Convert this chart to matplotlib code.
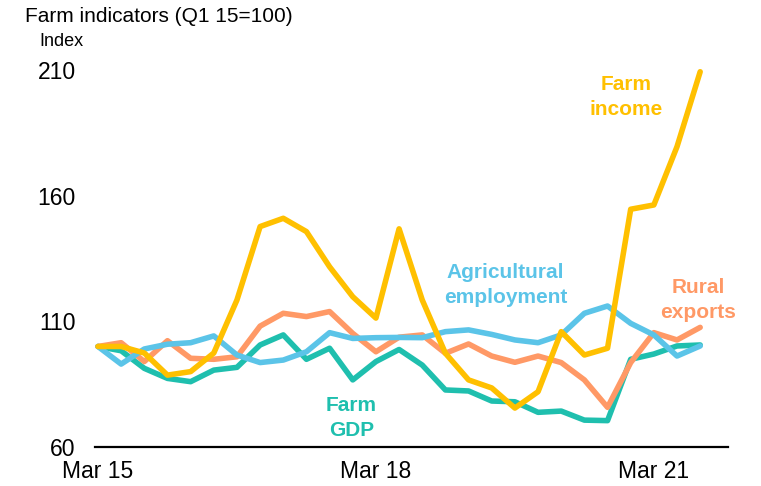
import matplotlib
matplotlib.use("Agg")
import matplotlib.pyplot as plt

plt.rcParams['font.family'] = ['Liberation Sans', 'DejaVu Sans']

quarters = list(range(27))
tick_positions = [0, 12, 24]
tick_labels = ["Mar 15", "Mar 18", "Mar 21"]
y_ticks = [60, 110, 160, 210]

farm_income = [100, 100, 97.4, 88.6, 90, 97.4, 118.5, 147.7, 151, 145.7, 131.7, 119.8,
               111.3, 146.8, 118.5, 97.3, 86.7, 83.5, 75.5, 82, 105.9, 96.6, 99.3,
               154.6, 156.3, 179.5, 209.3]
rural_exports = [100, 101.5, 94, 102.3, 95.3, 94.9, 95.9, 108.1, 113.2, 111.9, 113.9, 105.2,
                 97.9, 103.7, 104.6, 97.3, 101, 96.2, 93.7, 96.2, 93.6, 86.7, 75.8,
                 93.6, 105.5, 102.6, 107.6]
farm_gdp = [100, 98.3, 91.3, 87.3, 86, 90.6, 91.7, 100.6, 104.6, 94.9, 99.3, 86.7,
            94, 98.8, 92.6, 82.7, 82.3, 78.3, 78, 73.8, 74.3, 70.7, 70.5,
            94.9, 97, 100.2, 100.6]
agri_employment = [100, 93, 99, 100.9, 101.5, 104.2, 96.6, 93.6, 94.6, 97.9, 105.5, 103.2,
                   103.5, 103.6, 103.5, 105.9, 106.6, 104.8, 102.6, 101.5, 104.6, 113.2, 116.1,
                   109.2, 104.6, 96.2, 100.2]

c_income = "#FFC000"
c_exports = "#FF9966"
c_gdp = "#1FBFAE"
c_emp = "#5BC4E8"

fig = plt.figure(figsize=(7.61, 4.86), dpi=100)
ax = fig.add_axes([0.1248, 0.0802, 0.8318, 0.7758])

lw = 4
ax.plot(quarters, farm_gdp, color=c_gdp, lw=lw, solid_capstyle='round', clip_on=False)
ax.plot(quarters, rural_exports, color=c_exports, lw=lw, solid_capstyle='round', clip_on=False)
ax.plot(quarters, agri_employment, color=c_emp, lw=lw, solid_capstyle='round', clip_on=False)
ax.plot(quarters, farm_income, color=c_income, lw=lw, solid_capstyle='round', clip_on=False)

ax.set_xlim(-0.13, 27.2)
ax.set_ylim(60, 210)
ax.set_yticks(y_ticks)
ax.set_xticks(tick_positions)
ax.set_xticklabels(tick_labels)
ax.tick_params(axis='both', length=0, labelsize=16.5)
ax.tick_params(axis='y', pad=14)
ax.tick_params(axis='x', pad=9)
for s in ['top', 'right', 'left']:
    ax.spines[s].set_visible(False)
ax.spines['bottom'].set_linewidth(1.6)
ax.spines['bottom'].set_color('black')

lab_kw = dict(fontsize=15, fontweight='bold', ha='center', va='center', linespacing=1.4)
ax.text(22.8, 199.3, "Farm\nincome", color=c_income, **lab_kw)
ax.text(17.6, 124.5, "Agricultural\nemployment", color=c_emp, **lab_kw)
ax.text(25.9, 118.5, "Rural\nexports", color=c_exports, **lab_kw)
ax.text(10.95, 71.5, "Farm\nGDP", color=c_gdp, **lab_kw)

fig.text(25 / 761, 1 - 17 / 486, "Farm indicators (Q1 15=100)", fontsize=15, ha='left', va='center')
fig.text(39 / 761, 1 - 42 / 486, "Index", fontsize=13, ha='left', va='center')

fig.savefig("out.png", dpi=100)
